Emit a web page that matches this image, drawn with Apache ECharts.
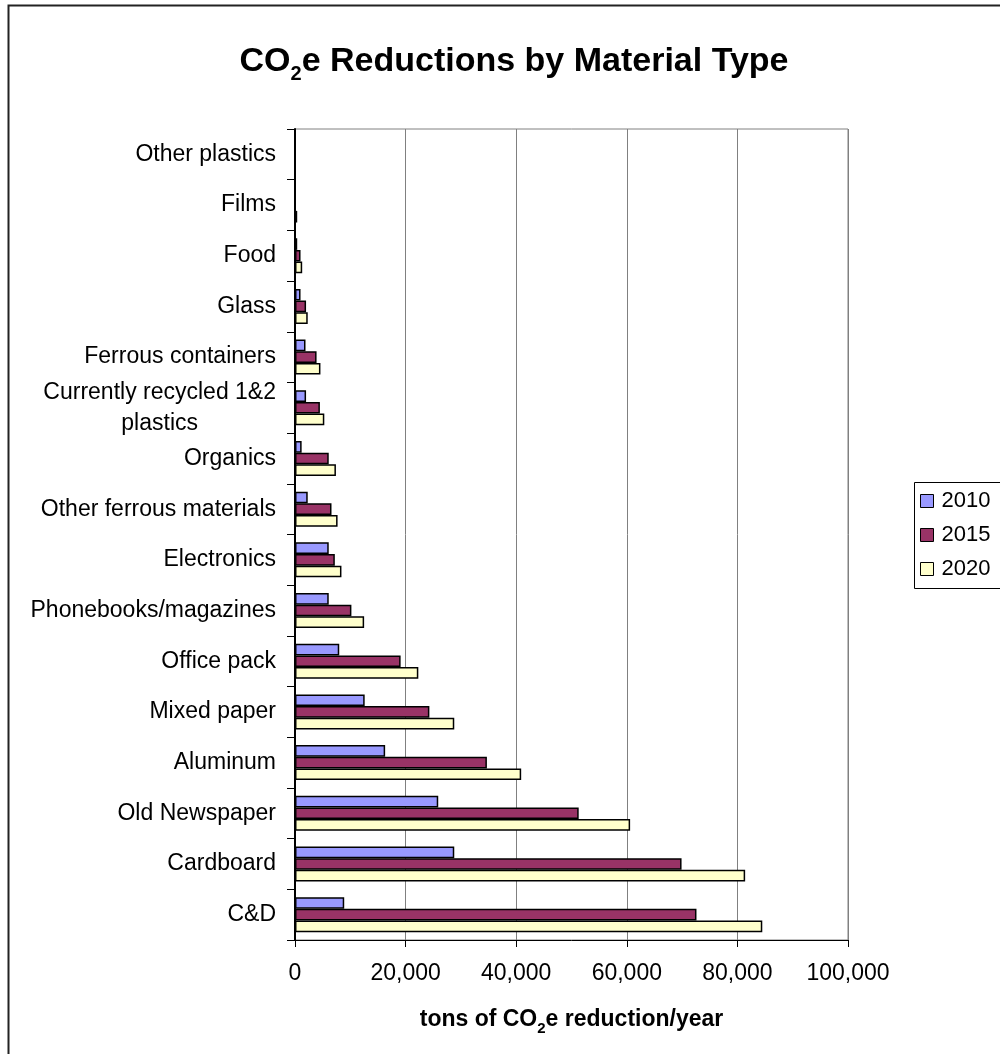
<!DOCTYPE html>
<html>
<head>
<meta charset="utf-8">
<script src="https://cdn.jsdelivr.net/npm/echarts@6/dist/echarts.min.js"></script>
<style>
  html, body { margin: 0; padding: 0; background: #fff; }
</style>
</head>
<body>
<div id="co2Chart" style="width: 1000px;height:1054px;"></div>
<script>
// categories, top to bottom
var materials = [
  "Other plastics",
  "Films",
  "Food",
  "Glass",
  "Ferrous containers",
  "Currently recycled 1&2\nplastics",
  "Organics",
  "Other ferrous materials",
  "Electronics",
  "Phonebooks/magazines",
  "Office pack",
  "Mixed paper",
  "Aluminum",
  "Old Newspaper",
  "Cardboard",
  "C&D"
];
var years = ["2010", "2015", "2020"];
var tons2010 = [0, 0, 400, 1000, 1900, 2000, 1200, 2300, 6100, 6100, 8000, 12600, 16300, 25900, 28800, 8900];
var tons2015 = [0, 0, 1000, 2000, 3900, 4500, 6100, 6600, 7200, 10200, 19100, 24300, 34700, 51300, 69900, 72600];
var tons2020 = [0, 400, 1300, 2300, 4600, 5300, 7400, 7700, 8400, 12500, 22300, 28800, 40900, 60600, 81400, 84500];
var xTicks = [0, 20000, 40000, 60000, 80000, 100000];

var font = "'Liberation Sans', Arial, sans-serif";
var barColors = ["#9999FF", "#993366", "#FFFFCC"];

function makeSeries(name, data, color) {
  return {
    name: name,
    type: "bar",
    barGap: "0%",
    barCategoryGap: "31%",
    itemStyle: {
      color: color,
      borderColor: "#000",
      borderWidth: 1.5
    },
    data: data
  };
}

var myChart = echarts.init(document.getElementById("co2Chart"));

var option = {
  animation: false,
  backgroundColor: "#fff",
  title: {
    left: 509,
    top: 40,
    textAlign: "center",
    text: "{a|CO}{s|2}{a|e Reductions by Material Type}",
    textStyle: {
      rich: {
        a: { fontFamily: font, fontSize: 34, fontWeight: "bold", color: "#000", lineHeight: 34 },
        s: { fontFamily: font, fontSize: 20, fontWeight: "bold", color: "#000", lineHeight: 10, padding: [24, 0, 0, 0] }
      }
    }
  },
  legend: {
    orient: "vertical",
    left: 912,
    top: 480,
    data: years,
    itemWidth: 13,
    itemHeight: 13,
    itemGap: 12,
    padding: [10, 4, 6, 8],
    icon: "rect",
    itemStyle: { borderColor: "#000", borderWidth: 1 },
    textStyle: { fontFamily: font, fontSize: 22, color: "#000", padding: [0, 0, 0, 3] }
  },
  grid: {
    left: 295,
    right: 152,
    top: 129,
    bottom: 114,
    show: true,
    borderColor: "#808080",
    borderWidth: 1
  },
  xAxis: {
    type: "value",
    min: 0,
    max: xTicks[xTicks.length - 1],
    interval: xTicks[1] - xTicks[0],
    name: "{a|tons of CO}{s|2}{a|e reduction/year}",
    nameLocation: "middle",
    nameGap: 67,
    nameTextStyle: {
      rich: {
        a: { fontFamily: font, fontSize: 23, fontWeight: "bold", color: "#000", lineHeight: 26 },
        s: { fontFamily: font, fontSize: 15, fontWeight: "bold", color: "#000", lineHeight: 8, padding: [17, 0, 0, 0] }
      }
    },
    axisLine: { show: true, lineStyle: { color: "#000", width: 1 } },
    axisTick: { show: true, length: 7, lineStyle: { color: "#000" } },
    axisLabel: {
      margin: 22,
      fontFamily: font,
      fontSize: 23,
      color: "#000",
      formatter: function (v) {
        return v.toLocaleString("en-US");
      }
    },
    splitLine: { show: true, lineStyle: { color: "#808080", width: 1 } }
  },
  yAxis: {
    type: "category",
    inverse: true,
    data: materials,
    axisLine: { show: true, lineStyle: { color: "#000", width: 2 } },
    axisTick: { show: true, length: 8, lineStyle: { color: "#000" } },
    axisLabel: {
      margin: 19,
      formatter: function (v) {
        return v.split("\n").map(function (s) { return "{c|" + s + "}"; }).join("\n");
      },
      rich: {
        c: { fontFamily: font, fontSize: 23, color: "#000", lineHeight: 31, align: "center" }
      }
    },
    splitLine: { show: false }
  },
  graphic: [
    {
      // outer chart frame
      type: "rect",
      left: 6,
      top: 3,
      shape: { width: 1010, height: 1070 },
      style: { fill: "none", stroke: "#222", lineWidth: 2 },
      silent: true
    },
    {
      // legend frame, runs off the right edge like the original
      type: "rect",
      left: 912,
      top: 480,
      z: -1,
      shape: { width: 120, height: 106 },
      style: { fill: "none", stroke: "#000", lineWidth: 1 },
      silent: true
    }
  ],
  series: [
    makeSeries(years[0], tons2010, barColors[0]),
    makeSeries(years[1], tons2015, barColors[1]),
    makeSeries(years[2], tons2020, barColors[2])
  ]
};
myChart.setOption(option);
</script>
</body>
</html>
